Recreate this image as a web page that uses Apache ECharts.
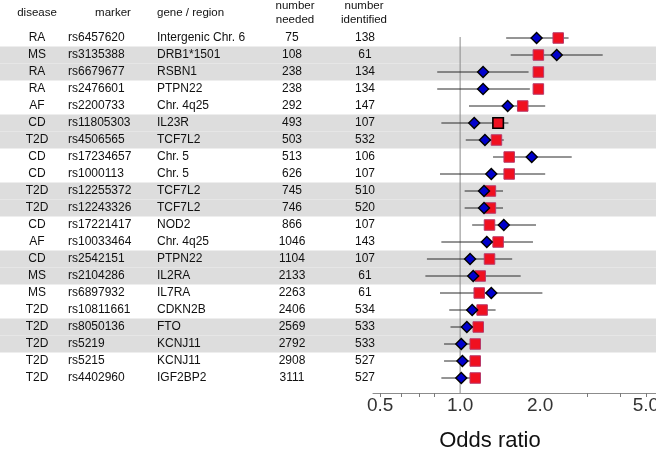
<!DOCTYPE html>
<html><head><meta charset="utf-8">
<script src="https://cdn.jsdelivr.net/npm/echarts@6/dist/echarts.min.js"></script>
<style>html,body{margin:0;padding:0;background:#fff}#c{width:656px;height:452px}</style>
</head><body><div id="c"></div>
<script>
// ---- data ----
const disease = ['RA','MS','RA','RA','AF','CD','T2D','CD','CD','T2D','T2D','CD','AF','CD','MS','MS','T2D','T2D','T2D','T2D','T2D'];
const marker = ['rs6457620','rs3135388','rs6679677','rs2476601','rs2200733','rs11805303','rs4506565','rs17234657','rs1000113','rs12255372','rs12243326','rs17221417','rs10033464','rs2542151','rs2104286','rs6897932','rs10811661','rs8050136','rs5219','rs5215','rs4402960'];
const gene = ['Intergenic Chr. 6','DRB1*1501','RSBN1','PTPN22','Chr. 4q25','IL23R','TCF7L2','Chr. 5','Chr. 5','TCF7L2','TCF7L2','NOD2','Chr. 4q25','PTPN22','IL2RA','IL7RA','CDKN2B','FTO','KCNJ11','KCNJ11','IGF2BP2'];
const numberNeeded = [75,108,238,238,292,493,503,513,626,745,746,866,1046,1104,2133,2263,2406,2569,2792,2908,3111];
const numberIdentified = [138,61,134,134,147,107,532,106,107,510,520,107,143,107,61,61,534,533,533,527,527];
// red squares (odds ratio)
const squareOR = [2.34,1.97,1.97,1.97,1.72,1.39,1.37,1.53,1.53,1.30,1.30,1.29,1.39,1.29,1.19,1.18,1.21,1.17,1.14,1.14,1.14];
// blue diamonds (odds ratio) with confidence interval
const diamondOR = [1.94,2.31,1.22,1.22,1.51,1.13,1.24,1.86,1.31,1.23,1.23,1.46,1.26,1.09,1.12,1.31,1.11,1.06,1.01,1.02,1.01];
const ciLow = [1.49,1.55,0.82,0.82,1.08,0.85,1.05,1.33,0.84,1.04,1.04,1.11,0.85,0.75,0.74,0.84,0.91,0.92,0.87,0.87,0.85];
const ciHigh = [2.56,3.44,1.81,1.83,2.09,1.52,1.46,2.63,2.09,1.45,1.45,1.93,1.88,1.57,1.69,2.04,1.36,1.23,1.15,1.15,1.15];
const highlighted = ['rs11805303'];
// axis
const axisMinOR = 0.47, axisMaxOR = 5.46;
const tickOR = [0.5,0.6,0.7,0.8,3,4,5];
const labelOR = [0.5,1,2,5];

// ---- chart ----
const FONT = '"Liberation Sans", Arial, Helvetica, sans-serif';
const L = v => Math.log2(v);
const rowIdx = marker.map((_, i) => i);
const band = rowIdx.map(i => (Math.floor((i + 1) / 2) % 2 === 1 ? 1 : '-'));
const ROWH = 17, TOP = 29.5;
const BOTTOM = 452 - (TOP + ROWH * marker.length);
const TXT = '#111111';

function colAxis(data, margin, align) {
  return {
    gridIndex: 0, type: 'category', data: data, inverse: true, position: 'left', offset: 0, z: 3,
    axisLine: {show: false}, axisTick: {show: false}, splitLine: {show: false},
    axisLabel: {inside: true, margin: margin, align: align, interval: 0, fontSize: 12,
      fontFamily: FONT, color: TXT}
  };
}

const chart = echarts.init(document.getElementById('c'), null, {renderer: 'canvas'});
chart.setOption({
  animation: false,
  backgroundColor: '#ffffff',
  grid: [
    {left: 0, right: 0, top: TOP, bottom: BOTTOM, outerBoundsMode: 'none', containLabel: false},
    {left: 373, right: 0, top: TOP, bottom: BOTTOM, outerBoundsMode: 'none', containLabel: false}
  ],
  xAxis: [
    {gridIndex: 0, type: 'value', min: 0, max: 1, show: false},
    {gridIndex: 1, type: 'value', min: L(axisMinOR), max: L(axisMaxOR), offset: 6.5, z: 3,
     axisLine: {show: true, lineStyle: {color: '#8c8c8c', width: 1}},
     axisTick: {show: true, customValues: tickOR.map(L), length: 4, lineStyle: {color: '#7a7a7a', width: 1}},
     axisLabel: {customValues: labelOR.map(L), formatter: v => Math.pow(2, v).toFixed(1),
       fontSize: 19, color: '#333', margin: 3, fontFamily: FONT},
     splitLine: {show: false}}
  ],
  yAxis: [
    {gridIndex: 0, type: 'category', data: rowIdx, inverse: true, show: false},
    colAxis(disease, 37, 'center'),
    colAxis(marker, 68, 'left'),
    colAxis(gene, 157, 'left'),
    colAxis(numberNeeded, 292, 'center'),
    colAxis(numberIdentified, 365, 'center'),
    {gridIndex: 1, type: 'category', data: rowIdx, inverse: true, show: false}
  ],
  graphic: [
    {type: 'text', x: 37, y: 13, style: {text: 'disease', align: 'center', verticalAlign: 'middle', font: '11.5px ' + FONT, fill: TXT}},
    {type: 'text', x: 113, y: 13, style: {text: 'marker', align: 'center', verticalAlign: 'middle', font: '11.5px ' + FONT, fill: TXT}},
    {type: 'text', x: 157, y: 13, style: {text: 'gene / region', align: 'left', verticalAlign: 'middle', font: '11.5px ' + FONT, fill: TXT}},
    {type: 'text', x: 295, y: 13, style: {text: 'number\nneeded', align: 'center', verticalAlign: 'middle', lineHeight: 13.5, font: '11.5px ' + FONT, fill: TXT}},
    {type: 'text', x: 364, y: 13, style: {text: 'number\nidentified', align: 'center', verticalAlign: 'middle', lineHeight: 13.5, font: '11.5px ' + FONT, fill: TXT}},
    {type: 'text', x: 490, y: 441, style: {text: 'Odds ratio', align: 'center', verticalAlign: 'middle', font: '22px ' + FONT, fill: '#111'}}
  ],
  series: [
    {type: 'bar', xAxisIndex: 0, yAxisIndex: 0, data: band, barWidth: '100%', silent: true, z: 0,
     itemStyle: {color: '#dddddd'}},
    {type: 'custom', xAxisIndex: 1, yAxisIndex: 6, data: [[0, 0]], z: 1, silent: true,
     renderItem: (params, api) => {
       const p = api.coord([api.value(0), api.value(1)]);
       const cs = params.coordSys;
       return {type: 'line', shape: {x1: p[0], y1: p[1] - 1, x2: p[0], y2: cs.y + cs.height + 6.5},
         style: {stroke: '#8a8a8a', lineWidth: 1}};
     }},
    {type: 'custom', xAxisIndex: 1, yAxisIndex: 6, z: 2, silent: true,
     data: ciLow.map((lo, i) => [L(lo), L(ciHigh[i]), i]),
     encode: {x: [0, 1], y: 2},
     renderItem: (params, api) => {
       const a = api.coord([api.value(0), api.value(2)]);
       const b = api.coord([api.value(1), api.value(2)]);
       return {type: 'line', shape: {x1: a[0], y1: a[1], x2: b[0], y2: b[1]},
         style: {stroke: '#2a2a2a', lineWidth: 1}};
     }},
    {type: 'scatter', xAxisIndex: 1, yAxisIndex: 6, z: 3, symbol: 'rect', symbolSize: 10.5,
     itemStyle: {color: '#f01020', borderColor: '#b83a6a', borderWidth: 1, opacity: 1},
     data: squareOR.map((v, i) => highlighted.includes(marker[i])
       ? {value: [L(v), i], itemStyle: {borderColor: '#000', borderWidth: 1.6}}
       : [L(v), i])},
    {type: 'scatter', xAxisIndex: 1, yAxisIndex: 6, z: 4, symbol: 'diamond', symbolSize: 11,
     itemStyle: {color: '#0000cc', borderColor: '#000', borderWidth: 1.4, opacity: 1},
     data: diamondOR.map((v, i) => [L(v), i])}
  ]
});
</script>
</body></html>
